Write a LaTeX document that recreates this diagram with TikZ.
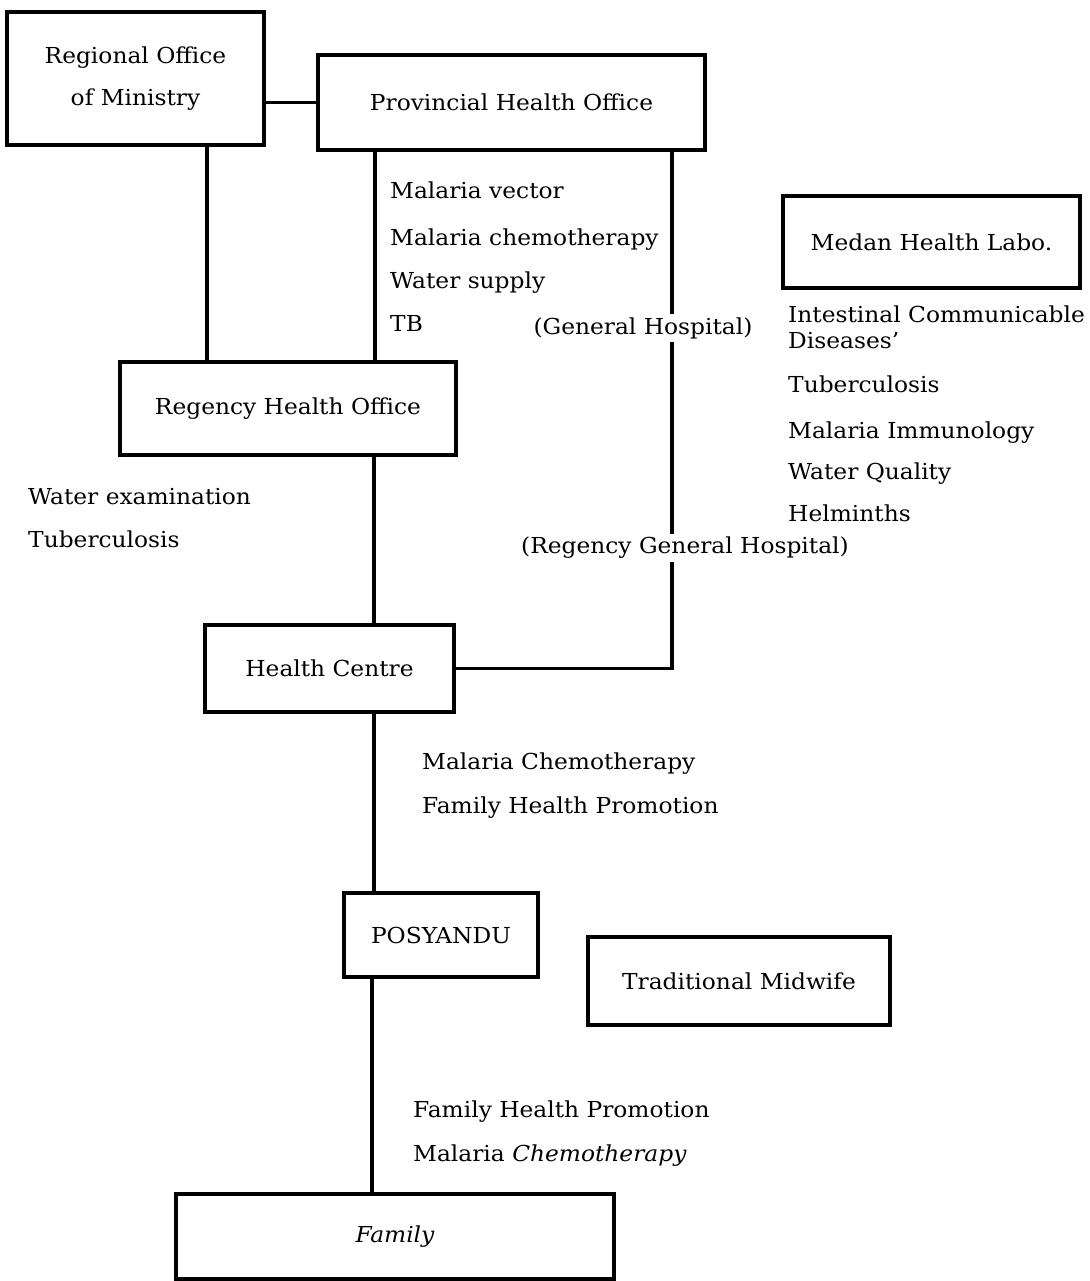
\documentclass[tikz,border=0pt]{standalone}
\usepackage{fontspec}
\setmainfont[FakeStretch=1.06]{DejaVu Serif}
\begin{document}
\begin{tikzpicture}[x=1pt,y=-1pt,
  every node/.style={font=\fontsize{22}{26}\selectfont},
  box/.style={draw,line width=3.2pt,inner sep=0pt,align=center},
  item/.style={anchor=base west,inner sep=0pt},
  gap/.style={inner sep=3pt},
  link/.style={line width=3.2pt}]
\useasboundingbox (0,0) rectangle (1089,1281);

% boxes
\node[box,minimum width=257pt,minimum height=133pt] (reg) at (135.5,78.5)
  {Regional Office\\[16pt]of Ministry};
\node[box,minimum width=387pt,minimum height=95pt] (prov) at (511.5,102.5) {Provincial Health Office};
\node[box,minimum width=297pt,minimum height=92pt] (medan) at (931.5,242) {Medan Health Labo.};
\node[box,minimum width=336pt,minimum height=93pt] (regency) at (288,408.5) {Regency Health Office};
\node[box,minimum width=249pt,minimum height=87pt] (hc) at (329.5,668.5) {Health Centre};
\node[box,minimum width=194pt,minimum height=84pt] (posy) at (441,935) {POSYANDU};
\node[box,minimum width=302pt,minimum height=88pt] (mid) at (739,981) {Traditional Midwife};
\node[box,minimum width=438pt,minimum height=85pt] (fam) at (395,1236.5) {\itshape Family};

% hospital labels interrupting the right-hand line
\node[gap] (gh) at (643,328) {(General Hospital)};
\node[gap] (rgh) at (685,548) {(Regency General Hospital)};

% connectors
\draw[link] (prov.west) -- (prov.west -| reg.east);
\draw[link] ([xshift=71.5pt]reg.south) -- ([xshift=71.5pt]reg.south |- regency.north);
\draw[link] ([xshift=-136.5pt]prov.south) -- ([xshift=-136.5pt]prov.south |- regency.north);
\draw[link] ([xshift=86pt]regency.south) -- ([xshift=86pt]regency.south |- hc.north);
\draw[link] ([xshift=44.5pt]hc.south) -- ([xshift=44.5pt]hc.south |- posy.north);
\draw[link] ([xshift=-69pt]posy.south) -- ([xshift=-69pt]posy.south |- fam.north);
\coordinate (pr) at ([xshift=160.5pt]prov.south);
\draw[link] (pr) -- (pr |- gh.north);
\draw[link] (pr |- gh.south) -- (pr |- rgh.north);
\draw[link] (pr |- rgh.south) |- (hc.east);

% activity lists
\node[item] (p1) at (390,199) {Malaria vector};
\node[item] (p2) at (390,246) {Malaria chemotherapy};
\node[item] (p3) at (390,288) {Water supply};
\node[item] (p4) at (390,331) {TB};

\node[item] (m1) at (788,322) {Intestinal Communicable};
\node[item] (m2) at (788,348) {Diseases'};
\node[item] (m3) at (788,392) {Tuberculosis};
\node[item] (m4) at (788,438) {Malaria Immunology};
\node[item] (m5) at (788,479) {Water Quality};
\node[item] (m6) at (788,521) {Helminths};

\node[item] (r1) at (28,504) {Water examination};
\node[item] (r2) at (28,547) {Tuberculosis};

\node[item] (h1) at (422,769) {Malaria Chemotherapy};
\node[item] (h2) at (422,813) {Family Health Promotion};

\node[item] (f1) at (413,1117) {Family Health Promotion};
\node[item] (f2) at (413,1161) {Malaria \itshape Chemotherapy};
\end{tikzpicture}
\end{document}
